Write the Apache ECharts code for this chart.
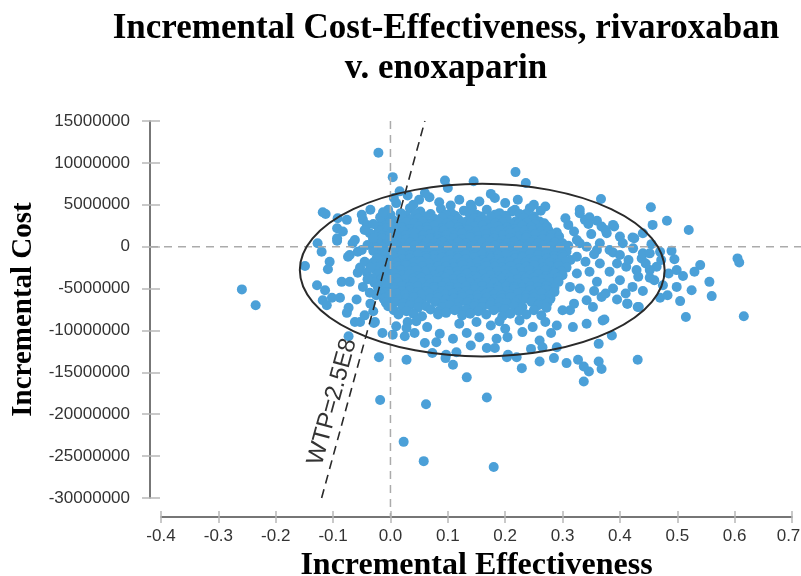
<!DOCTYPE html>
<html><head><meta charset="utf-8">
<script src="https://cdn.jsdelivr.net/npm/echarts@6/dist/echarts.min.js"></script>
<style>html,body{margin:0;padding:0;background:#fff}#c{width:801px;height:576px}</style>
</head><body><div id="c"></div>
<script>
// ---- text ----
const titleLines = ['Incremental Cost-Effectiveness, rivaroxaban', 'v. enoxaparin'];
const xName = 'Incremental Effectiveness';
const yName = 'Incremental Cost';
// ---- axes ----
const xMin = -0.4, xMax = 0.7, xStep = 0.1;
const yMin = -30000000, yMax = 15000000, yStep = 5000000;
// ---- WTP line & confidence ellipse ----
const wtp = 250000000;
const wtpLabel = 'WTP=2.5E8';
const wtpLabelCost = -19000000;
const ellipseCenter = [0.16, -2800000];
const ellipseRadii = [0.318, 10300000];
// ---- points: [incremental effectiveness, incremental cost in millions] ----
const outliers = [[-0.021,11.2],[0.004,8.3],[0.095,7.9],[0.10,7.0],[0.145,7.8],[0.218,8.9],[0.236,7.6],[0.367,5.7],[0.454,4.7],[0.482,3.1],[0.457,2.6],[0.425,1.0],[-0.259,-5.1],[-0.235,-7.0],[-0.02,-13.2],[0.028,-13.5],[-0.018,-18.3],[0.062,-18.8],[0.023,-23.3],[0.058,-25.6],[0.168,-18.0],[0.18,-26.3],[0.431,-13.5],[0.363,-13.7],[0.368,-14.6],[0.337,-16.1],[0.346,-14.9],[0.337,-14.3],[0.327,-13.5],[0.307,-13.9],[0.285,-13.3],[0.26,-13.7],[0.229,-14.5],[0.203,-13.2],[0.363,-11.6],[0.386,-10.6],[0.373,-8.7],[0.413,-6.8],[0.433,-7.2],[0.133,-15.6],[0.109,-14.1]];
const cloudTop = [[0.006,5.8],[0.03,6.1],[0.05,5.6],[0.068,5.9],[0.085,5.3],[0.12,5.6],[0.14,5.0],[0.155,5.4],[0.182,5.8],[0.2,5.2],[0.222,5.6],[0.25,5.0],[0.27,4.8],[0.105,4.9],[0.04,5.0],[0.016,6.6],[0.06,6.4],[0.175,6.3],[0.01,5.2],[0.142,4.6],[0.217,4.4],[0.243,4.6],
[-0.004,4.4],[0.018,4.0],[0.034,4.6],[0.052,4.2],[0.07,3.9],[0.088,4.5],[0.106,4.0],[0.128,4.3],[0.15,3.8],[0.168,4.4],[0.19,4.0],[0.212,4.2],[0.236,3.9],[0.262,4.3],
[0.0,3.8],[0.027,3.7],[0.043,3.9],[0.06,3.6],[0.097,3.8],[0.113,3.7],[0.138,3.9],[0.158,3.6],[0.182,3.8],[0.2,3.7],[0.225,3.9],[0.25,3.6],
[-0.01,3.3],[0.006,3.1],[0.02,3.5],[0.035,3.2],[0.048,3.4],[0.062,3.0],[0.077,3.3],[0.09,3.5],[0.105,3.1],[0.118,3.3],[0.133,3.0],[0.146,3.4],[0.16,3.2],[0.175,3.5],[0.19,3.1],[0.203,3.3],[0.218,3.0],[0.232,3.4],[0.247,3.2],[0.26,3.0],
[-0.015,2.8],[0.0,2.9],[0.014,2.7],[0.028,2.9],[0.042,2.8],[0.056,3.0],[0.07,2.7],[0.084,2.9],[0.098,2.8],[0.112,2.7],[0.126,2.9],[0.14,2.8],[0.154,3.0],[0.168,2.7],[0.182,2.8],[0.196,2.9],[0.21,2.7],[0.224,2.8],[0.238,2.9],[0.252,2.7],[0.268,2.8],
[-0.022,2.4],[-0.008,2.2],[0.007,2.5],[0.02,2.3],[0.034,2.1],[0.049,2.4],[0.063,2.3],[0.076,2.5],[0.09,2.2],[0.104,2.4],[0.119,2.3],[0.132,2.1],[0.146,2.4],[0.161,2.5],[0.174,2.2],[0.188,2.4],[0.203,2.3],[0.216,2.1],[0.23,2.5],[0.245,2.3],[0.259,2.2],[0.273,2.4],
[-0.02,1.9],[-0.006,1.8],[0.009,2.0],[0.023,1.9],[0.037,1.7],[0.051,1.9],[0.065,2.0],[0.079,1.8],[0.093,1.9],[0.108,1.7],[0.122,1.9],[0.136,2.0],[0.15,1.8],[0.164,1.9],[0.178,1.7],[0.192,2.0],[0.206,1.9],[0.22,1.8],[0.234,1.9],[0.248,2.0],[0.262,1.8],[0.276,1.9],[0.29,1.7],
[-0.028,1.4],[-0.015,1.3],[0.0,1.5],[0.013,1.2],[0.027,1.4],[0.042,1.6],[0.056,1.3],[0.069,1.5],[0.083,1.2],[0.097,1.4],[0.112,1.3],[0.125,1.6],[0.139,1.4],[0.153,1.2],[0.167,1.5],[0.181,1.3],[0.196,1.4],[0.209,1.6],[0.223,1.2],[0.238,1.4],[0.252,1.5],[0.266,1.3],[0.28,1.4],[0.294,1.2],
[-0.03,0.9],[-0.015,1.0],[-0.001,0.8],[0.013,1.0],[0.027,0.9],[0.041,1.1],[0.055,0.8],[0.069,1.0],[0.083,0.9],[0.097,0.8],[0.111,1.0],[0.125,0.9],[0.139,1.1],[0.153,0.8],[0.167,0.9],[0.181,1.0],[0.195,0.8],[0.209,1.0],[0.223,0.9],[0.237,1.1],[0.251,0.8],[0.265,0.9],[0.279,1.0],[0.293,0.8],
[-0.022,0.5],[-0.007,0.3],[0.006,0.6],[0.02,0.4],[0.035,0.5],[0.049,0.2],[0.062,0.5],[0.077,0.4],[0.09,0.6],[0.104,0.3],[0.118,0.5],[0.132,0.4],[0.147,0.2],[0.16,0.5],[0.174,0.6],[0.189,0.3],[0.203,0.4],[0.216,0.6],[0.23,0.3],[0.245,0.5],[0.258,0.4],[0.272,0.2],[0.287,0.5],[0.3,0.4],
[-0.028,0.0],[-0.014,-0.1],[0.0,0.1],[0.014,0.0],[0.028,-0.1],[0.042,0.1],[0.056,0.0],[0.07,-0.1],[0.084,0.1],[0.098,0.0],[0.112,-0.1],[0.126,0.1],[0.14,0.0],[0.154,-0.1],[0.168,0.0],[0.182,0.1],[0.196,-0.1],[0.21,0.0],[0.224,0.1],[0.238,0.0],[0.252,-0.1],[0.266,0.1],[0.28,0.0],[0.295,-0.1],[0.31,0.1]];
const cloudMid = [[-0.03,-0.5],[-0.015,-0.6],[-0.001,-0.4],[0.013,-0.5],[0.028,-0.7],[0.041,-0.4],[0.055,-0.6],[0.07,-0.5],[0.083,-0.3],[0.097,-0.6],[0.111,-0.5],[0.126,-0.4],[0.139,-0.7],[0.153,-0.5],[0.168,-0.4],[0.181,-0.6],[0.195,-0.5],[0.21,-0.3],[0.223,-0.6],[0.237,-0.5],[0.251,-0.4],[0.265,-0.7],[0.28,-0.5],[0.293,-0.4],[0.307,-0.6],
[-0.022,-1.0],[-0.008,-0.9],[0.006,-1.1],[0.02,-0.9],[0.034,-1.0],[0.048,-0.9],[0.062,-1.1],[0.076,-1.0],[0.09,-0.9],[0.104,-1.0],[0.118,-1.1],[0.132,-0.9],[0.146,-1.0],[0.16,-0.9],[0.174,-1.1],[0.188,-1.0],[0.202,-0.9],[0.216,-1.0],[0.23,-1.1],[0.244,-0.9],[0.258,-1.0],[0.272,-0.9],[0.286,-1.1],[0.3,-1.0],
[-0.024,-1.4],[-0.008,-1.6],[0.006,-1.3],[0.02,-1.5],[0.034,-1.4],[0.048,-1.7],[0.063,-1.4],[0.076,-1.5],[0.09,-1.3],[0.105,-1.6],[0.118,-1.4],[0.132,-1.5],[0.146,-1.3],[0.16,-1.6],[0.175,-1.4],[0.188,-1.5],[0.202,-1.7],[0.217,-1.4],[0.23,-1.3],[0.244,-1.5],[0.258,-1.6],[0.273,-1.4],[0.286,-1.5],[0.3,-1.3],[0.314,-1.6],
[-0.03,-1.9],[-0.016,-2.0],[-0.002,-1.8],[0.012,-1.9],[0.026,-2.0],[0.04,-1.9],[0.054,-1.8],[0.068,-2.0],[0.082,-1.9],[0.096,-1.8],[0.11,-2.0],[0.124,-1.9],[0.138,-2.0],[0.152,-1.8],[0.166,-1.9],[0.18,-2.0],[0.194,-1.9],[0.208,-1.8],[0.222,-2.0],[0.236,-1.9],[0.25,-1.8],[0.264,-2.0],[0.278,-1.9],[0.292,-2.0],[0.306,-1.8],
[-0.03,-2.4],[-0.016,-2.3],[-0.002,-2.5],[0.013,-2.4],[0.027,-2.2],[0.04,-2.5],[0.055,-2.4],[0.069,-2.6],[0.083,-2.3],[0.097,-2.4],[0.111,-2.5],[0.125,-2.2],[0.14,-2.4],[0.153,-2.6],[0.167,-2.3],[0.182,-2.4],[0.195,-2.5],[0.209,-2.3],[0.224,-2.6],[0.237,-2.4],[0.251,-2.2],[0.266,-2.5],[0.279,-2.4],[0.293,-2.3],[0.307,-2.5],
[-0.024,-2.9],[-0.01,-2.8],[0.004,-3.0],[0.018,-2.8],[0.032,-2.9],[0.046,-2.8],[0.06,-3.0],[0.074,-2.9],[0.088,-2.8],[0.102,-2.9],[0.116,-3.0],[0.13,-2.8],[0.144,-2.9],[0.158,-2.8],[0.172,-3.0],[0.186,-2.9],[0.2,-2.8],[0.214,-2.9],[0.228,-3.0],[0.242,-2.8],[0.256,-2.9],[0.27,-2.8],[0.284,-3.0],[0.298,-2.9],
[-0.023,-3.3],[-0.009,-3.5],[0.006,-3.2],[0.02,-3.4],[0.033,-3.3],[0.048,-3.5],[0.062,-3.2],[0.076,-3.4],[0.09,-3.6],[0.104,-3.3],[0.118,-3.4],[0.133,-3.2],[0.146,-3.5],[0.16,-3.3],[0.174,-3.4],[0.189,-3.6],[0.202,-3.3],[0.216,-3.2],[0.231,-3.5],[0.244,-3.4],[0.258,-3.3],[0.272,-3.5],[0.287,-3.2],[0.3,-3.4],
[-0.03,-3.8],[-0.016,-3.9],[-0.002,-3.7],[0.012,-3.8],[0.026,-3.9],[0.04,-3.8],[0.054,-3.7],[0.068,-3.9],[0.082,-3.8],[0.096,-3.7],[0.11,-3.9],[0.124,-3.8],[0.138,-3.9],[0.152,-3.7],[0.166,-3.8],[0.18,-3.9],[0.194,-3.8],[0.208,-3.7],[0.222,-3.9],[0.236,-3.8],[0.25,-3.7],[0.264,-3.9],[0.278,-3.8],[0.292,-3.7],
[-0.028,-4.3],[-0.014,-4.4],[0.0,-4.2],[0.013,-4.3],[0.027,-4.5],[0.041,-4.2],[0.055,-4.3],[0.069,-4.4],[0.084,-4.1],[0.097,-4.3],[0.111,-4.5],[0.125,-4.2],[0.139,-4.3],[0.154,-4.4],[0.167,-4.2],[0.181,-4.3],[0.196,-4.5],[0.209,-4.2],[0.223,-4.4],[0.237,-4.3],[0.252,-4.1],[0.265,-4.4],[0.279,-4.3],[0.293,-4.2]];
const cloudLow = [[-0.022,-4.8],[-0.008,-4.7],[0.006,-4.9],[0.02,-4.7],[0.034,-4.8],[0.048,-4.7],[0.062,-4.9],[0.076,-4.8],[0.09,-4.7],[0.104,-4.8],[0.118,-4.9],[0.132,-4.7],[0.146,-4.8],[0.16,-4.7],[0.174,-4.9],[0.188,-4.8],[0.202,-4.7],[0.216,-4.8],[0.23,-4.9],[0.244,-4.7],[0.258,-4.8],[0.272,-4.7],[0.286,-4.9],
[-0.02,-5.2],[-0.006,-5.4],[0.007,-5.1],[0.021,-5.3],[0.034,-5.2],[0.048,-5.4],[0.062,-5.3],[0.077,-5.1],[0.09,-5.3],[0.104,-5.2],[0.118,-5.4],[0.132,-5.3],[0.147,-5.1],[0.16,-5.3],[0.174,-5.4],[0.188,-5.2],[0.203,-5.3],[0.216,-5.1],[0.23,-5.4],[0.244,-5.2],[0.259,-5.3],[0.272,-5.1],[0.286,-5.4],
[-0.016,-5.7],[-0.002,-5.8],[0.012,-5.6],[0.026,-5.7],[0.04,-5.8],[0.054,-5.7],[0.068,-5.6],[0.082,-5.8],[0.096,-5.7],[0.11,-5.6],[0.124,-5.8],[0.138,-5.7],[0.152,-5.8],[0.166,-5.6],[0.18,-5.7],[0.194,-5.8],[0.208,-5.7],[0.222,-5.6],[0.236,-5.8],[0.25,-5.7],[0.264,-5.6],[0.278,-5.8],
[-0.012,-6.2],[0.001,-6.1],[0.014,-6.3],[0.028,-6.2],[0.041,-6.0],[0.055,-6.3],[0.07,-6.2],[0.083,-6.1],[0.097,-6.3],[0.111,-6.2],[0.125,-6.0],[0.139,-6.3],[0.153,-6.2],[0.168,-6.1],[0.181,-6.3],[0.195,-6.2],[0.209,-6.0],[0.224,-6.3],[0.237,-6.2],[0.25,-6.1],[0.265,-6.3],[0.279,-6.2],
[-0.008,-6.7],[0.008,-6.6],[0.022,-6.8],[0.036,-6.6],[0.05,-6.7],[0.078,-6.6],[0.092,-6.8],[0.106,-6.7],[0.12,-6.6],[0.134,-6.7],[0.148,-6.8],[0.162,-6.6],[0.176,-6.7],[0.19,-6.6],[0.204,-6.8],[0.218,-6.7],[0.246,-6.6],[0.26,-6.8],[0.274,-6.7],
[-0.004,-7.1],[0.021,-7.2],[0.034,-7.0],[0.048,-7.3],[0.062,-7.1],[0.09,-7.2],[0.104,-7.0],[0.118,-7.3],[0.146,-7.1],[0.16,-7.2],[0.174,-7.0],[0.188,-7.3],[0.216,-7.1],[0.23,-7.2],[0.258,-7.0],[0.272,-7.3],
[0.006,-7.6],[0.028,-7.7],[0.07,-7.5],[0.084,-7.7],[0.112,-7.6],[0.132,-7.5],[0.153,-7.7],[0.18,-7.6],[0.2,-7.5],[0.224,-7.7],[0.25,-7.6],
[0.014,-8.1],[0.04,-8.0],[0.055,-8.3],[0.083,-8.1],[0.097,-7.9],[0.125,-8.2],[0.139,-8.0],[0.167,-8.1],[0.195,-8.3],[0.209,-8.0],[0.237,-8.1],[0.263,-8.2],
[0.06,-11.5],[0.073,-12.7],[0.097,-12.9],[0.064,-9.6],[0.086,-10.4],[0.109,-11.0],[0.133,-10.3],[0.168,-12.1],[0.182,-12.1],[0.204,-10.8],[0.225,-8.8],[0.248,-9.6],[0.26,-11.2],[0.265,-12.0],[0.29,-12.0],[0.22,-13.2],[0.03,-9.0],[0.045,-8.9],[0.12,-9.2],[0.15,-9.0],[0.175,-9.4],[0.19,-8.9],[0.2,-9.8],[0.155,-10.8],[0.14,-11.8],[0.185,-11.0],[0.23,-10.2],[0.27,-9.0],[0.28,-10.3],[0.245,-12.2],[0.01,-9.5],[0.025,-10.7],[0.042,-10.3],[0.028,-9.7],[0.115,-12.6],[0.205,-12.9],[0.08,-11.4],[0.096,-13.3]];
const rightWing = [[0.33,4.4],[0.339,3.2],[0.33,4.0],[0.347,3.5],[0.36,3.1],[0.368,2.4],[0.345,2.7],[0.39,2.4],[0.375,2.0],[0.377,1.6],[0.388,2.6],[0.35,1.5],[0.4,1.2],[0.422,1.1],[0.325,0.8],[0.33,0.4],[0.365,0.4],[0.342,0.0],[0.36,-0.4],[0.382,-0.4],[0.388,-0.7],[0.405,0.4],[0.423,-0.2],[0.438,-1.4],[0.44,-0.8],[0.452,-0.8],[0.464,-2.4],[0.452,-2.8],[0.452,-3.7],[0.475,-4.6],[0.47,-6.1],[0.431,-7.2],[0.413,-6.8],[0.4,-4.0],[0.382,-3.0],[0.365,-2.0],[0.347,-3.0],[0.388,-5.0],[0.422,-4.8],[0.411,-2.4],[0.429,-2.8],[0.368,-6.0],[0.342,-6.4],[0.33,-5.0],[0.353,-7.2],[0.37,-8.8],[0.342,-9.2],[0.318,-9.6],[0.313,-7.6],[0.325,-1.2],[0.325,-3.2],[0.313,-4.8],[0.4,-1.0],[0.415,-1.6],[0.432,-3.6],[0.445,-2.0],[0.395,-2.0],[0.36,-4.2],[0.375,-5.6],[0.34,-1.8],[0.355,-0.9],[0.31,2.6],[0.32,1.8],[0.305,3.4],[0.41,-5.6],[0.395,-6.3],[0.355,-5.3],[0.32,-6.8],[0.3,-7.6],[0.29,-9.4],[0.44,-5.3],[0.46,-4.0],[0.485,-3.2],[0.472,-1.6],[0.455,0.3],[0.44,1.6],[0.47,-0.6],
[0.499,-2.8],[0.499,-4.8],[0.483,-5.8],[0.54,-2.2],[0.556,-4.2],[0.56,-5.9],[0.515,-8.4],[0.605,-1.4],[0.608,-1.9],[0.616,-8.3],[0.52,2.0],[0.49,-0.5],[0.51,-3.5],[0.53,-3.0],[0.525,-5.2],[0.505,-6.5],[0.495,-1.5]];
const leftWing = [[-0.118,4.1],[-0.113,3.9],[-0.092,3.4],[-0.076,3.2],[-0.093,2.2],[-0.083,1.8],[-0.093,0.7],[-0.127,0.4],[-0.12,-0.6],[-0.149,-2.3],[-0.106,-1.8],[-0.109,-2.7],[-0.071,-1.0],[-0.057,-0.6],[-0.066,0.4],[-0.128,-4.6],[-0.114,-5.2],[-0.118,-6.4],[-0.111,-7.0],[-0.088,-6.1],[-0.085,-4.2],[-0.071,-4.2],[-0.057,-3.1],[-0.053,-2.5],[-0.045,-1.8],[-0.073,-7.3],[-0.076,-7.9],[-0.059,-6.3],[-0.062,-9.0],[-0.053,-9.0],[-0.027,-9.0],[-0.073,-10.7],[-0.014,-10.3],[0.004,-10.5],[-0.048,3.2],[-0.041,2.6],[-0.018,3.5],[-0.013,4.1],[-0.036,1.6],[-0.062,0.8],[-0.05,-0.4],[-0.041,-3.1],[-0.048,-4.8],[-0.036,-5.5],[-0.102,-6.1],[-0.029,-9.1],[-0.093,1.0],[-0.074,-1.2],[-0.035,-6.8],[-0.03,-7.7],[-0.045,-8.2],[-0.025,-5.8],[-0.04,-3.9],[-0.035,-2.5],[-0.04,0.2],[-0.045,2.0],[-0.03,1.0],[-0.03,2.7],[-0.035,4.4],[-0.05,3.8]];

const M = 1000000;
const points = [].concat(cloudTop, cloudMid, cloudLow, rightWing, leftWing, outliers).map(p => [p[0], p[1] * M]);

const labelFont = 'Liberation Sans';
const serifFont = 'Liberation Serif';
const axisLineColor = '#4a4a4a';
const tickColor = '#b8b8b8';
const refLineColor = '#ababab';

function xAxisCfg(main) {
  return {
    type: 'value', min: xMin, max: xMax, interval: xStep, position: 'bottom', offset: 19,
    name: main ? xName : '', nameLocation: 'middle', nameGap: 29,
    nameTextStyle: {fontFamily: serifFont, fontWeight: 'bold', fontSize: 32, color: '#000'},
    axisLine: {show: main, onZero: false, lineStyle: {color: axisLineColor, width: 1.5}},
    axisTick: {show: true, inside: !main, length: 6, lineStyle: {color: tickColor, width: 1.5}},
    axisLabel: {
      show: main, margin: 11, fontFamily: labelFont, fontSize: 17, color: '#333',
      formatter: v => (Math.abs(v - xMax) < 1e-9 ? '{last|' + v.toFixed(1) + '}' : v.toFixed(1)),
      rich: {last: {fontFamily: labelFont, fontSize: 17, color: '#333', padding: [0, 7, 0, 0]}}
    },
    splitLine: {show: false}
  };
}
function yAxisCfg(main) {
  return {
    type: 'value', min: yMin, max: yMax, interval: yStep, position: 'left', offset: 11,
    name: main ? yName : '', nameLocation: 'middle', nameGap: 102, nameRotate: 90,
    nameTextStyle: {fontFamily: serifFont, fontWeight: 'bold', fontSize: 29, color: '#000'},
    axisLine: {show: main, onZero: false, lineStyle: {color: axisLineColor, width: 1.5}},
    axisTick: {show: true, inside: !main, length: main ? 8 : 10, lineStyle: {color: tickColor, width: 1.5}},
    axisLabel: {show: main, margin: 20, fontFamily: labelFont, fontSize: 17, color: '#333', formatter: v => String(v)},
    splitLine: {show: false}
  };
}

const chart = echarts.init(document.getElementById('c'), null, {renderer: 'canvas'});
chart.setOption({
  animation: false,
  backgroundColor: '#fff',
  title: {
    text: titleLines.join('\n'), left: 441, top: 4, textAlign: 'center',
    textStyle: {fontFamily: serifFont, fontWeight: 'bold', fontSize: 35, lineHeight: 40, color: '#000'}
  },
  grid: {left: 161, right: 9, top: 121, bottom: 78, containLabel: false, outerBoundsMode: 'none'},
  xAxis: [xAxisCfg(true), xAxisCfg(false)],
  yAxis: [yAxisCfg(true), yAxisCfg(false)],
  series: [
    {
      type: 'scatter', data: points, symbol: 'circle', symbolSize: 10, large: false,
      itemStyle: {color: '#4ba0d8', opacity: 1, borderWidth: 0}, z: 2
    },
    {
      // zero reference lines (x = 0 down to the offset x-axis, y = 0 from the offset y-axis)
      type: 'custom', z: 3, silent: true, clip: false,
      data: [[0, 0]],
      renderItem: (params, api) => {
        const top = api.coord([api.value(0), yMax]);
        const bot = api.coord([api.value(0), yMin]);
        const lft = api.coord([xMin, api.value(1)]);
        const rgt = api.coord([xMax, api.value(1)]);
        const st = {stroke: refLineColor, lineWidth: 1.5, lineDash: [8, 6]};
        return {type: 'group', children: [
          {type: 'line', shape: {x1: top[0], y1: top[1], x2: bot[0], y2: bot[1] + 19}, style: st},
          {type: 'line', shape: {x1: lft[0] - 11, y1: lft[1], x2: rgt[0] + 9, y2: rgt[1]}, style: st}
        ]};
      }
    },
    {
      type: 'custom', z: 4, silent: true,
      data: [[ellipseCenter[0], ellipseCenter[1], ellipseRadii[0], ellipseRadii[1]]],
      renderItem: (params, api) => {
        const c = api.coord([api.value(0), api.value(1)]);
        const s = api.size([api.value(2), api.value(3)]);
        const rx = s[0], ry = s[1];
        const d = `M ${c[0] - rx} ${c[1]} A ${rx} ${ry} 0 1 0 ${c[0] + rx} ${c[1]} A ${rx} ${ry} 0 1 0 ${c[0] - rx} ${c[1]} Z`;
        return {type: 'path', shape: {pathData: d}, style: {fill: 'none', stroke: '#2a2a2a', lineWidth: 2}};
      }
    },
    {
      type: 'line', z: 5, silent: true, symbol: 'none',
      data: [[yMin / wtp, yMin], [yMax / wtp, yMax]],
      lineStyle: {color: '#2a2a2a', width: 1.6, type: [9, 6]}
    },
    {
      type: 'custom', z: 6, silent: true,
      data: [[wtpLabelCost / wtp, wtpLabelCost]],
      renderItem: (params, api) => {
        const p = api.coord([api.value(0), api.value(1)]);
        const a = api.coord([yMin / wtp, yMin]);
        const b = api.coord([yMax / wtp, yMax]);
        const ang = Math.atan2(a[1] - b[1], b[0] - a[0]);
        const off = 15;
        return {
          type: 'text', x: p[0] - off * Math.sin(ang), y: p[1] - off * Math.cos(ang), rotation: ang,
          style: {text: wtpLabel, fontFamily: labelFont, fontSize: 24, fill: '#333', align: 'center', verticalAlign: 'middle'}
        };
      }
    }
  ]
});
</script>
</body></html>
